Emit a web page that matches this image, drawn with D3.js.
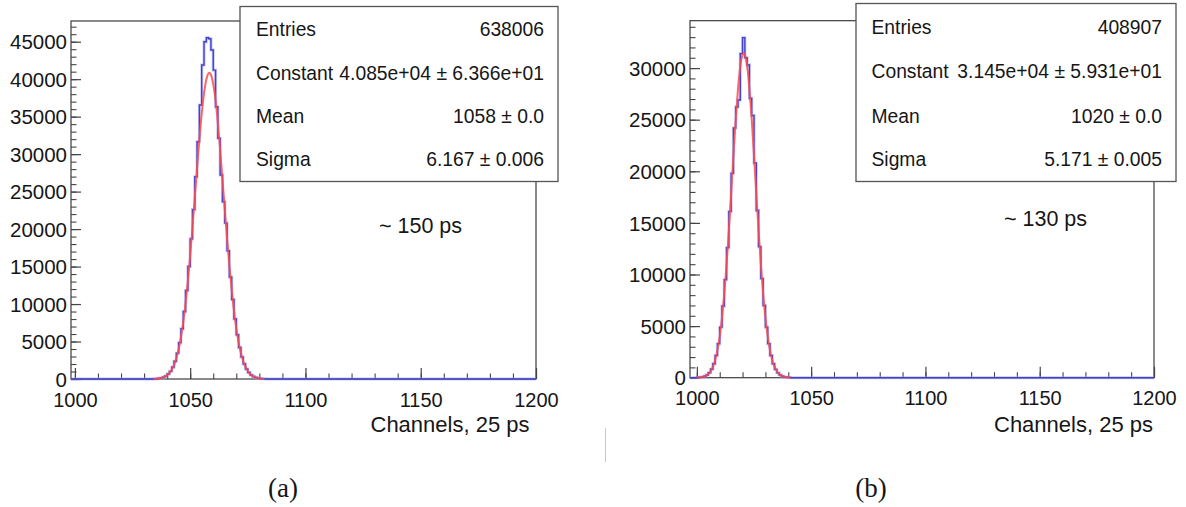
<!DOCTYPE html>
<html>
<head>
<meta charset="utf-8">
<script src="https://cdn.jsdelivr.net/npm/d3@7/dist/d3.min.js"></script>
<style>
  html, body { margin: 0; padding: 0; background: #ffffff; }
  svg { display: block; }
  text { font-family: "Liberation Sans", Arial, Helvetica, sans-serif; fill: #161616; }
  .serif { font-family: "Liberation Serif", "Times New Roman", serif; }
</style>
</head>
<body>
<svg id="chart" width="1186" height="507"></svg>
<script>
// ---------------- data ----------------
const xTickLabels = [1000, 1050, 1100, 1150, 1200];
const leftYTickLabels = [0, 5000, 10000, 15000, 20000, 25000, 30000, 35000, 40000, 45000];
const rightYTickLabels = [0, 5000, 10000, 15000, 20000, 25000, 30000];

// (a) histogram, bins of 1 channel starting at leftHistStart
const leftHistStart = 1034;
const leftHist = [15, 40, 85, 150, 250, 410, 660, 1020, 1580, 2360, 3450, 4850, 6700, 9000,
  11800, 15000, 18700, 22600, 26990, 31660, 36550, 41890, 45000, 45530, 45400, 43900, 41200,
  36330, 32110, 27210, 23650, 20800, 17100, 13600, 10600, 8000, 5900, 4200, 2950, 2000, 1330,
  860, 540, 330, 200, 115, 65, 35, 20];
// (a) fitted gaussian, sampled at each channel from leftFitStart
const leftFitStart = 1034;
const leftFit = [17, 32, 59, 105, 181, 305, 500, 799, 1243, 1883, 2780, 3990, 5590, 7620,
  10130, 13100, 16510, 20270, 24240, 28240, 32030, 35400, 38110, 39950, 40800, 40590, 39330,
  37120, 34120, 30560, 26650, 22640, 18740, 15100, 11850, 9065, 6750, 4900, 3460, 2385, 1600,
  1044, 664, 411, 248, 146, 84, 47, 25];

// (b) histogram
const rightHistStart = 1000;
const rightHist = [20, 40, 75, 145, 265, 480, 820, 1350, 2160, 3300, 4900, 6950, 9500, 12600,
  16100, 19800, 24200, 26230, 26900, 31400, 32950, 31000, 30300, 27070, 25400, 20800, 16200,
  12700, 9600, 7000, 4900, 3300, 2150, 1350, 810, 470, 260, 140, 75, 37, 18];
// (b) fitted gaussian
const rightFitStart = 1000;
const rightFit = [12, 26, 52, 103, 194, 352, 617, 1041, 1693, 2652, 4003, 5815, 8145, 10985,
  14270, 17865, 21540, 25010, 27980, 30155, 31300, 31300, 30155, 27980, 25010, 21540, 17865,
  14270, 10985, 8145, 5815, 4003, 2652, 1693, 1041, 617, 352, 194, 103, 52, 26, 12];

const statLabels = ["Entries", "Constant", "Mean", "Sigma"];
const leftStatValues = ["638006", "4.085e+04 \u00b1 6.366e+01", "1058 \u00b1 0.0", "6.167 \u00b1 0.006"];
const rightStatValues = ["408907", "3.145e+04 \u00b1 5.931e+01", "1020 \u00b1 0.0", "5.171 \u00b1 0.005"];

const xTitle = "Channels, 25 ps";
const leftNote = "~ 150 ps";
const rightNote = "~ 130 ps";
const leftCaption = "(a)";
const rightCaption = "(b)";

// ---------------- drawing ----------------
const svg = d3.select("#chart");
const FS_X = 20, FS_Y = 20.5, FS_STAT = 19.3, FS_TITLE = 22, FS_NOTE = 21.5;

function panel(cfg) {
  const g = svg.append("g");
  const x = d3.scaleLinear().domain(cfg.xDomain).range([cfg.left, cfg.right]);
  const y = d3.scaleLinear().domain([0, cfg.yMax]).range([cfg.bottom, cfg.top]);

  // frame
  g.append("rect")
    .attr("x", cfg.left).attr("y", cfg.top)
    .attr("width", cfg.right - cfg.left).attr("height", cfg.bottom - cfg.top)
    .attr("fill", "none").attr("stroke", "#3c3c3c").attr("stroke-width", 1.2);

  // y axis (ticks point inward)
  const yMinor = d3.range(0, cfg.yMax, 1000);
  const yMinorAx = g.append("g").attr("transform", `translate(${cfg.left},0)`)
    .call(d3.axisLeft(y).tickValues(yMinor).tickSize(-5.5).tickSizeOuter(0).tickFormat(""));
  yMinorAx.select(".domain").remove();
  yMinorAx.selectAll("line").attr("stroke", "#444").attr("stroke-width", 1.1);
  const yAx = g.append("g").attr("transform", `translate(${cfg.left},0)`)
    .call(d3.axisLeft(y).tickValues(cfg.yTicks).tickSize(-10).tickSizeOuter(0).tickPadding(4).tickFormat(d3.format("d")));
  yAx.select(".domain").remove();
  yAx.selectAll("line").attr("stroke", "#444").attr("stroke-width", 1.2);
  yAx.selectAll("text").attr("font-size", FS_Y).attr("dy", "0.35em")
    .style("font-family", '"Liberation Sans", Arial, sans-serif').attr("fill", "#161616");

  // x axis
  const xMinor = d3.range(1000, 1201, 10);
  const xMinorAx = g.append("g").attr("transform", `translate(0,${cfg.bottom})`)
    .call(d3.axisBottom(x).tickValues(xMinor).tickSize(-5.5).tickSizeOuter(0).tickFormat(""));
  xMinorAx.select(".domain").remove();
  xMinorAx.selectAll("line").attr("stroke", "#444").attr("stroke-width", 1.1);
  const xAx = g.append("g").attr("transform", `translate(0,${cfg.bottom})`)
    .call(d3.axisBottom(x).tickValues(xTickLabels).tickSize(-11).tickSizeOuter(0).tickPadding(13.5).tickFormat(d3.format("d")));
  xAx.select(".domain").remove();
  xAx.selectAll("line").attr("stroke", "#444").attr("stroke-width", 1.2);
  xAx.selectAll("text").attr("font-size", FS_X)
    .style("font-family", '"Liberation Sans", Arial, sans-serif').attr("fill", "#161616");

  // histogram (full range, zero outside the filled bins)
  const first = Math.floor(cfg.xDomain[0]);
  const bins = [];
  for (let c = first; c < 1200; c++) {
    const i = c - cfg.histStart;
    bins.push([c, (i >= 0 && i < cfg.hist.length) ? cfg.hist[i] : 0]);
  }
  bins.push([1200, 0]);
  const clipId = "clip" + cfg.id;
  svg.append("clipPath").attr("id", clipId).append("rect")
    .attr("x", cfg.left).attr("y", cfg.top - 2)
    .attr("width", cfg.right - cfg.left).attr("height", cfg.bottom - cfg.top + 4);
  const step = d3.line().x(d => x(d[0])).y(d => y(d[1])).curve(d3.curveStepAfter);
  const hg = g.append("g").attr("clip-path", `url(#${clipId})`);
  hg.append("path").datum(bins).attr("d", step)
    .attr("fill", "none").attr("stroke", "#9a9af2").attr("stroke-width", 3).attr("stroke-opacity", 0.55);
  hg.append("path").datum(bins).attr("d", step)
    .attr("fill", "none").attr("stroke", "#4242c8").attr("stroke-width", 1.4);

  // fit curve
  const fitPts = cfg.fit.map((v, i) => [cfg.fitStart + i, v]);
  const fitLine = d3.line().x(d => x(d[0])).y(d => y(d[1])).curve(d3.curveNatural);
  hg.append("path").datum(fitPts).attr("d", fitLine)
    .attr("fill", "none").attr("stroke", "#ff4a4a").attr("stroke-width", 2).attr("stroke-opacity", 0.85);

  // x title
  g.append("text").attr("x", cfg.titleX).attr("y", 431.5).attr("text-anchor", "end")
    .attr("font-size", FS_TITLE).text(xTitle);

  // note
  g.append("text").attr("x", cfg.noteX).attr("y", cfg.noteY).attr("font-size", FS_NOTE).text(cfg.note);

  // stats box
  const b = cfg.box;
  g.append("rect").attr("x", b.x).attr("y", b.y).attr("width", b.w).attr("height", b.h)
    .attr("fill", "#ffffff").attr("stroke", "#555").attr("stroke-width", 1.3);
  statLabels.forEach((lab, i) => {
    g.append("text").attr("x", b.x + b.padL).attr("y", b.rows[i]).attr("font-size", FS_STAT).text(lab);
    g.append("text").attr("x", b.x + b.w - b.padR).attr("y", b.rows[i]).attr("font-size", FS_STAT)
      .attr("text-anchor", "end").text(cfg.stats[i]);
  });

  // caption
  svg.append("text").attr("class", "serif").attr("x", cfg.capX).attr("y", 497)
    .attr("text-anchor", "middle").attr("font-size", 27).text(cfg.caption);
}

panel({
  id: "a", left: 71, right: 536, top: 21, bottom: 379,
  xDomain: [998.3, 1200], yMax: 47760, yTicks: leftYTickLabels,
  hist: leftHist, histStart: leftHistStart, fit: leftFit, fitStart: leftFitStart,
  titleX: 529.5, note: leftNote, noteX: 379, noteY: 233,
  box: { x: 240, y: 6.5, w: 318, h: 175, rows: [36, 79.5, 123, 165.5], padL: 16, padR: 14 },
  stats: leftStatValues, caption: leftCaption, capX: 283
});
panel({
  id: "b", left: 690, right: 1154, top: 20.7, bottom: 377.7,
  xDomain: [997, 1200], yMax: 34590, yTicks: rightYTickLabels,
  hist: rightHist, histStart: rightHistStart, fit: rightFit, fitStart: rightFitStart,
  titleX: 1153, note: rightNote, noteX: 1004, noteY: 226,
  box: { x: 856, y: 3.5, w: 320, h: 178, rows: [34, 78, 122.5, 165.5], padL: 15.5, padR: 14 },
  stats: rightStatValues, caption: rightCaption, capX: 871
});

// small separator mark between panels
svg.append("line").attr("x1", 605.5).attr("x2", 605.5).attr("y1", 428).attr("y2", 462)
  .attr("stroke", "#c8c8c8").attr("stroke-width", 1);
</script>
</body>
</html>
